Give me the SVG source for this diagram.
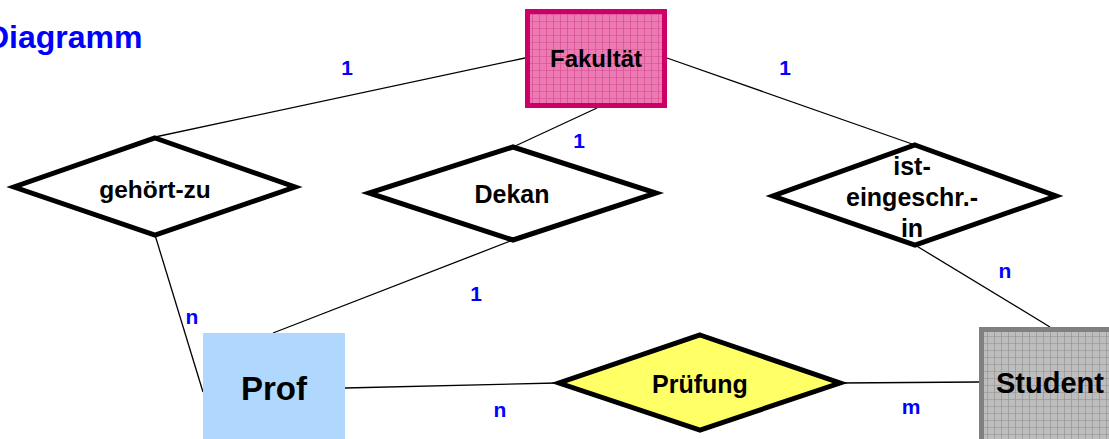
<svg xmlns="http://www.w3.org/2000/svg" width="1109" height="439" viewBox="0 0 1109 439">
<style>
.lbl{font-family:"Liberation Sans",Arial,sans-serif;font-weight:bold;fill:#000;text-anchor:middle}
.card{font-family:"Liberation Sans",Arial,sans-serif;font-weight:bold;fill:#0000FF;font-size:21px;text-anchor:middle}
.rel{fill:#fff;stroke:#000;stroke-width:5;stroke-linejoin:miter}
.con line{stroke:#000;stroke-width:1.3}
</style>
<defs>
<pattern id="pinkgrid" width="7" height="7" patternUnits="userSpaceOnUse">
<rect width="7" height="7" fill="#EE7AB4"/>
<path d="M0 0H7M0 0V7" stroke="#D2468E" stroke-width="1.2"/>
</pattern>
<pattern id="graygrid" width="7" height="7" patternUnits="userSpaceOnUse">
<rect width="7" height="7" fill="#BDBDBD"/>
<path d="M0 0H7M0 0V7" stroke="#8E8E8E" stroke-width="1.2"/>
</pattern>
</defs>
<rect width="1109" height="439" fill="#fff"/>
<text x="-14" y="48" font-family="Liberation Sans,Arial,sans-serif" font-weight="bold" font-size="32" fill="#0000FF">Diagramm</text>
<g id="connectors" class="con">
<line x1="525" y1="58" x2="155" y2="137"/>
<line x1="597" y1="108" x2="513" y2="147"/>
<line x1="667" y1="58" x2="915" y2="145"/>
<line x1="155" y1="235" x2="203" y2="392"/>
<line x1="513" y1="240" x2="273" y2="333"/>
<line x1="915" y1="245" x2="1050" y2="327"/>
<line x1="345" y1="388" x2="557" y2="383"/>
<line x1="840" y1="383" x2="979" y2="382"/>
</g>
<g id="card-labels">
<text class="card" x="347" y="75">1</text>
<text class="card" x="579" y="148">1</text>
<text class="card" x="785" y="75">1</text>
<text class="card" x="192" y="324">n</text>
<text class="card" x="476" y="301">1</text>
<text class="card" x="1005" y="278">n</text>
<text class="card" x="500" y="417">n</text>
<text class="card" x="911" y="414">m</text>
</g>
<g id="fakultaet">
<rect x="527.5" y="11.5" width="137" height="94" fill="url(#pinkgrid)" stroke="#CC0066" stroke-width="5"/>
<text class="lbl" x="596" y="67" font-size="24">Fakultät</text>
</g>
<g id="gehoert-zu">
<polygon class="rel" points="155,138 295,187 155,235 14,187"/>
<text class="lbl" x="155" y="198" font-size="24.5">gehört-zu</text>
</g>
<g id="dekan">
<polygon class="rel" points="513,147 656,193 513,240 369,193"/>
<text class="lbl" x="512" y="203" font-size="25">Dekan</text>
</g>
<g id="ist-eingeschr-in">
<polygon class="rel" points="915,145 1056,196 915,245 773,196"/>
<text class="lbl" x="912" y="175" font-size="25">ist-</text>
<text class="lbl" x="912" y="206" font-size="25">eingeschr.-</text>
<text class="lbl" x="912" y="237" font-size="25">in</text>
</g>
<g id="prof">
<rect x="203" y="333" width="142" height="106" fill="#B0D8FF"/>
<text class="lbl" x="274" y="400" font-size="33">Prof</text>
</g>
<g id="pruefung">
<polygon class="rel" points="700,335 840,383 700,430 559,383" style="fill:#FFFF66"/>
<text class="lbl" x="700" y="393" font-size="25">Prüfung</text>
</g>
<g id="student">
<rect x="981.5" y="329.5" width="135" height="112" fill="url(#graygrid)" stroke="#808080" stroke-width="5"/>
<text class="lbl" x="1050" y="393" font-size="29">Student</text>
</g>
</svg>
